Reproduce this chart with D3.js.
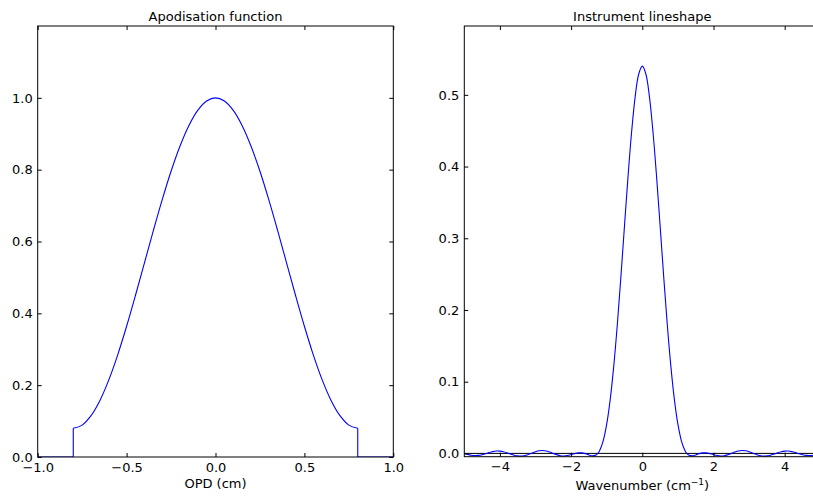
<!DOCTYPE html>
<html>
<head>
<meta charset="utf-8">
<script src="https://cdn.jsdelivr.net/npm/d3@7"></script>
<style>
  html, body { margin: 0; padding: 0; background: #fff; }
  svg { display: block; font-family: "DejaVu Sans", sans-serif; }
</style>
</head>
<body>
<svg id="fig" width="813" height="496"></svg>
<script>
// Apodisation function: optical path difference (cm) and weight
const opd = [-1.0, -0.8, -0.8, -0.75, -0.7, -0.65, -0.6, -0.55, -0.5, -0.45, -0.4, -0.35, -0.3, -0.25, -0.2, -0.15, -0.1, -0.05,
  0.0, 0.05, 0.1, 0.15, 0.2, 0.25, 0.3, 0.35, 0.4, 0.45, 0.5, 0.55, 0.6, 0.65, 0.7, 0.75, 0.8, 0.8, 1.0];
const apod = [0, 0, 0.080, 0.0888, 0.1150, 0.1575, 0.2147, 0.2844, 0.3640, 0.4503, 0.5400, 0.6297, 0.7160, 0.7956, 0.8653, 0.9225, 0.9650, 0.9912,
  1.0, 0.9912, 0.9650, 0.9225, 0.8653, 0.7956, 0.7160, 0.6297, 0.5400, 0.4503, 0.3640, 0.2844, 0.2147, 0.1575, 0.1150, 0.0888, 0.080, 0, 0];

// Instrument lineshape: wavenumber (cm^-1) and response
const wavenumber = [
  -5.0, -4.9, -4.8, -4.7, -4.6, -4.5, -4.4, -4.375, -4.3, -4.2, -4.1, -4.0, -3.9, -3.8, -3.75, -3.7, -3.6, -3.5, -3.4, -3.3, -3.2, -3.125,
  -3.0, -2.9, -2.8, -2.7, -2.6, -2.5, -2.4, -2.3, -2.2, -2.1, -2.0, -1.875, -1.8, -1.7, -1.6, -1.5, -1.4, -1.3, -1.25,
  -1.2, -1.1, -1.0, -0.9, -0.8, -0.7, -0.6, -0.5, -0.4, -0.3, -0.2, -0.1,
  0.0,
  0.1, 0.2, 0.3, 0.4, 0.5, 0.6, 0.7, 0.8, 0.9, 1.0, 1.1, 1.2,
  1.25, 1.3, 1.4, 1.5, 1.6, 1.7, 1.8, 1.875, 2.0, 2.1, 2.2, 2.3, 2.4, 2.5, 2.6, 2.7, 2.8, 2.9, 3.0,
  3.125, 3.2, 3.3, 3.4, 3.5, 3.6, 3.7, 3.75, 3.8, 3.9, 4.0, 4.1, 4.2, 4.3, 4.375, 4.4, 4.5, 4.6, 4.7, 4.8, 4.9, 5.0];
const lineshape = [
  0.0, -0.0014, -0.0026, -0.0030, -0.0028, -0.0018, -0.0004, 0.0, 0.0012, 0.0025, 0.0033, 0.0032, 0.0024, 0.0009, 0.0, -0.0009, -0.0025, -0.0035, -0.0037, -0.0029, -0.0014, 0.0,
  0.0023, 0.0036, 0.0040, 0.0034, 0.0019, 0.0, -0.0019, -0.0033, -0.0036, -0.0030, -0.0018, 0.0, 0.0007, 0.0007, -0.0003, -0.0021, -0.0034, -0.0022, 0.0,
  0.0038, 0.0172, 0.0407, 0.0757, 0.1227, 0.1808, 0.2472, 0.3176, 0.3866, 0.4485, 0.4976, 0.5291,
  0.5400,
  0.5291, 0.4976, 0.4485, 0.3866, 0.3176, 0.2472, 0.1808, 0.1227, 0.0757, 0.0407, 0.0172, 0.0038,
  0.0, -0.0022, -0.0034, -0.0021, -0.0003, 0.0007, 0.0007, 0.0, -0.0018, -0.0030, -0.0036, -0.0033, -0.0019, 0.0, 0.0019, 0.0034, 0.0040, 0.0036, 0.0023,
  0.0, -0.0014, -0.0029, -0.0037, -0.0035, -0.0025, -0.0009, 0.0, 0.0009, 0.0024, 0.0032, 0.0033, 0.0025, 0.0012, 0.0, -0.0004, -0.0018, -0.0028, -0.0030, -0.0026, -0.0014, 0.0];
const baseline = 0;

// Tick values
const apodXTicks = [-1.0, -0.5, 0.0, 0.5, 1.0];
const apodYTicks = [0.0, 0.2, 0.4, 0.6, 0.8, 1.0];
const ilsXTicks = [-4, -2, 0, 2, 4];
const ilsYTicks = [0.0, 0.1, 0.2, 0.3, 0.4, 0.5];

const svg = d3.select("#fig");
const FONT = 13;
const BLUE = "#0000ff";

function panel(opts) {
  const { xDomain, yDomain, xRange, yRange, xTicks, yTicks, xFmt, yFmt, title, clipId } = opts;
  const x = d3.scaleLinear().domain(xDomain).range(xRange);
  const y = d3.scaleLinear().domain(yDomain).range(yRange);
  const g = svg.append("g");

  g.append("clipPath").attr("id", clipId)
    .append("rect")
    .attr("x", xRange[0]).attr("y", yRange[1])
    .attr("width", xRange[1] - xRange[0]).attr("height", yRange[0] - yRange[1]);

  const plot = g.append("g").attr("clip-path", `url(#${clipId})`);

  // inward ticks on all four sides
  const bottom = g.append("g").attr("transform", `translate(0,${yRange[0]})`)
    .call(d3.axisBottom(x).tickValues(xTicks).tickFormat(xFmt).tickSizeInner(-4).tickSizeOuter(0).tickPadding(5.5));
  const top = g.append("g").attr("transform", `translate(0,${yRange[1]})`)
    .call(d3.axisTop(x).tickValues(xTicks).tickFormat("").tickSizeInner(-4).tickSizeOuter(0));
  const left = g.append("g").attr("transform", `translate(${xRange[0]},0)`)
    .call(d3.axisLeft(y).tickValues(yTicks).tickFormat(yFmt).tickSizeInner(-4).tickSizeOuter(0).tickPadding(5));
  const right = g.append("g").attr("transform", `translate(${xRange[1]},0)`)
    .call(d3.axisRight(y).tickValues(yTicks).tickFormat("").tickSizeInner(-4).tickSizeOuter(0));

  [bottom, top, left, right].forEach(a => {
    a.select(".domain").remove();
    a.selectAll("line").attr("stroke", "#000").attr("stroke-width", 1);
    a.selectAll("text").attr("font-size", FONT).attr("font-family", "DejaVu Sans").attr("fill", "#000");
  });

  // frame
  g.append("rect")
    .attr("x", xRange[0]).attr("y", yRange[1])
    .attr("width", xRange[1] - xRange[0]).attr("height", yRange[0] - yRange[1])
    .attr("fill", "none").attr("stroke", "#000").attr("stroke-width", 1);

  g.append("text")
    .attr("x", (xRange[0] + xRange[1]) / 2).attr("y", 21)
    .attr("text-anchor", "middle").attr("font-size", FONT).attr("fill", "#000")
    .text(title);

  return { x, y, g, plot };
}

// Left panel: apodisation function
const A = panel({
  xDomain: [-1, 1], yDomain: [0, 1.2],
  xRange: [37.7, 393.3], yRange: [457, 26],
  xTicks: apodXTicks, yTicks: apodYTicks,
  xFmt: d3.format(".1f"), yFmt: d3.format(".1f"),
  title: "Apodisation function", clipId: "clipA"
});

const apodPts = opd.map((v, i) => [v, apod[i]]);
// window region between the two step edges is smooth; outer parts are straight
const iStart = 2, iEnd = apodPts.length - 3;
const lineLin = d3.line().x(d => A.x(d[0])).y(d => A.y(d[1]));
const lineSmooth = d3.line().x(d => A.x(d[0])).y(d => A.y(d[1])).curve(d3.curveCatmullRom.alpha(0.5));
A.plot.append("path").attr("d", lineLin(apodPts.slice(0, iStart + 1)))
  .attr("fill", "none").attr("stroke", BLUE).attr("stroke-width", 1.1);
A.plot.append("path").attr("d", lineSmooth(apodPts.slice(iStart, iEnd + 1)))
  .attr("fill", "none").attr("stroke", BLUE).attr("stroke-width", 1.1);
A.plot.append("path").attr("d", lineLin(apodPts.slice(iEnd)))
  .attr("fill", "none").attr("stroke", BLUE).attr("stroke-width", 1.1);

A.g.append("text")
  .attr("x", (37.7 + 393.3) / 2).attr("y", 488)
  .attr("text-anchor", "middle").attr("font-size", FONT).attr("fill", "#000")
  .text("OPD (cm)");

// Right panel: instrument lineshape
const B = panel({
  xDomain: [-5, 5], yDomain: [-0.0046, 0.596],
  xRange: [464.3, 820.3], yRange: [456.7, 26],
  xTicks: ilsXTicks, yTicks: ilsYTicks,
  xFmt: d3.format("d"), yFmt: d3.format(".1f"),
  title: "Instrument lineshape", clipId: "clipB"
});

B.plot.append("line")
  .attr("x1", B.x(-5)).attr("x2", B.x(5))
  .attr("y1", B.y(baseline)).attr("y2", B.y(baseline))
  .attr("stroke", "#000").attr("stroke-width", 1);

const ilsPts = wavenumber.map((v, i) => [v, lineshape[i]]);
B.plot.append("path")
  .attr("d", d3.line().x(d => B.x(d[0])).y(d => B.y(d[1])).curve(d3.curveCatmullRom.alpha(0.5))(ilsPts))
  .attr("fill", "none").attr("stroke", BLUE).attr("stroke-width", 1.1);

const xl = B.g.append("text")
  .attr("x", (464.3 + 820.3) / 2).attr("y", 490)
  .attr("text-anchor", "middle").attr("font-size", FONT).attr("fill", "#000");
xl.append("tspan").text("Wavenumber (cm");
xl.append("tspan").attr("font-size", 9).attr("dy", -5).text("\u22121");
xl.append("tspan").attr("dy", 5).text(")");
</script>
</body>
</html>
